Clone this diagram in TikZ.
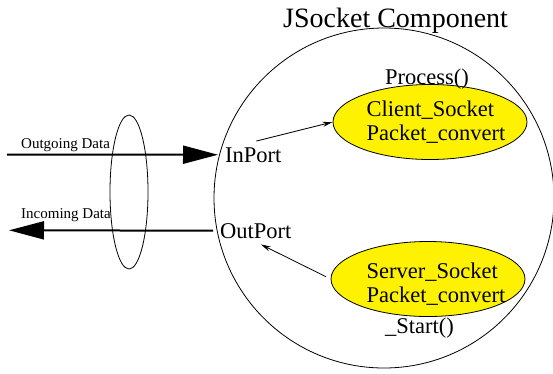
\documentclass[tikz,border=0pt]{standalone}
\usepackage{fontspec}
\setmainfont{Liberation Serif}
\usetikzlibrary{arrows.meta,shapes.geometric}

\begin{document}
\begin{tikzpicture}[x=1pt,y=-1pt,
        bigfont/.style={font=\fontsize{28}{32}\selectfont},
        midfont/.style={font=\fontsize{22.5}{24}\selectfont},
        smallfont/.style={font=\fontsize{15}{17}\selectfont},
        thinline/.style={line width=0.8pt},
        socket/.style={ellipse, draw, thinline, fill=yellow, minimum width=194pt, minimum height=75pt, inner sep=0pt},
        port/.style={midfont, anchor=base west, inner sep=2pt},
        callarrow/.style={thinline, -{Stealth[length=10pt,width=5pt]}},
        dataarrow/.style={line width=2pt, -{Triangle[length=35pt,width=18pt]}}]

        \useasboundingbox (0,0) rectangle (553,373);

        % draw the component and the link
        \node[circle, draw, thinline, minimum size=340pt, inner sep=0pt] (comp) at (384,198) {};
        \node[ellipse, draw, thinline, minimum width=38pt, minimum height=154pt, inner sep=0pt] (link) at (129,192) {};

        % the title
        \node[bigfont, anchor=base west, inner sep=0pt] (title) at (283,27) {JSocket Component};

        % the two sockets (empty ellipses, the text goes on top of them)
        \node[socket] (client) at (430,122) {};
        \node[socket] (server) at (428,279) {};
        \node[midfont, align=left, inner sep=0pt] (clientname) at (436,122) {Client\_Socket\\Packet\_convert};
        \node[midfont, align=left, inner sep=0pt] (servername) at (436,284) {Server\_Socket\\Packet\_convert};
        \node[midfont, anchor=base west, inner sep=0pt] (process) at (385,84) {Process()};
        \node[midfont, anchor=base west, inner sep=0pt] (start) at (385,333) {\_Start()};

        % the ports
        \node[port] (inport) at (223,162) {InPort};
        \node[port] (outport) at (218,238) {OutPort};

        % the data texts and the free ends of the data arrows
        \node[smallfont, anchor=base west, inner sep=0pt] (outlabel) at (21,148) {Outgoing Data};
        \node[smallfont, anchor=base west, inner sep=0pt] (inlabel) at (21,218) {Incoming Data};
        \coordinate (outsrc) at (7,154.5);
        \coordinate (indst) at (9,230.3);

        % draw the arrows
        \draw[dataarrow, shorten >=5pt] (outsrc) -- (inport.west);
        \draw[dataarrow, shorten <=5pt] (outport.west) -- (indst);
        \draw[callarrow] ([xshift=3pt,yshift=4pt]inport.north) -- (client.west);
        \draw[callarrow, shorten <=5pt] (server.west) -- ([xshift=5pt,yshift=-4pt]outport.south);

    \end{tikzpicture}
\end{document}
